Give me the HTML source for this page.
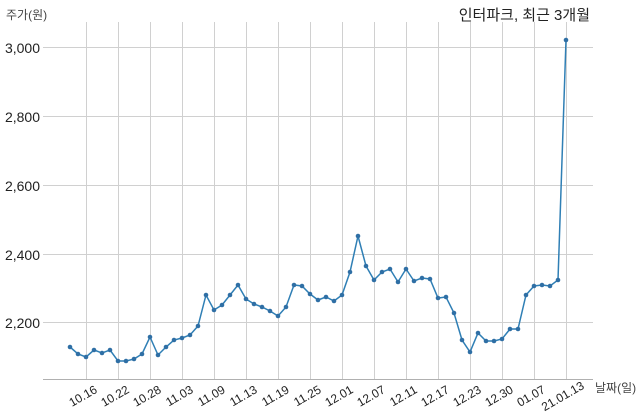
<!DOCTYPE html>
<html><head><meta charset="utf-8"><style>
html,body{margin:0;padding:0;background:#fff;}
svg{display:block;}
text{font-family:"Liberation Sans","Noto Sans CJK KR",sans-serif;}
</style></head><body>
<svg width="640" height="419" viewBox="0 0 640 419" xmlns="http://www.w3.org/2000/svg">
<g stroke="#d0d0d0" stroke-width="1">
<line x1="43" y1="47.5" x2="593" y2="47.5"/>
<line x1="43" y1="116.5" x2="593" y2="116.5"/>
<line x1="43" y1="185.5" x2="593" y2="185.5"/>
<line x1="43" y1="254.5" x2="593" y2="254.5"/>
<line x1="43" y1="322.5" x2="593" y2="322.5"/>
<line x1="86.5" y1="22" x2="86.5" y2="379"/><line x1="118.5" y1="22" x2="118.5" y2="379"/>
<line x1="150.5" y1="22" x2="150.5" y2="379"/><line x1="182.5" y1="22" x2="182.5" y2="379"/>
<line x1="214.5" y1="22" x2="214.5" y2="379"/><line x1="246.5" y1="22" x2="246.5" y2="379"/>
<line x1="278.5" y1="22" x2="278.5" y2="379"/><line x1="310.5" y1="22" x2="310.5" y2="379"/>
<line x1="342.5" y1="22" x2="342.5" y2="379"/><line x1="374.5" y1="22" x2="374.5" y2="379"/>
<line x1="406.5" y1="22" x2="406.5" y2="379"/><line x1="438.5" y1="22" x2="438.5" y2="379"/>
<line x1="470.5" y1="22" x2="470.5" y2="379"/><line x1="502.5" y1="22" x2="502.5" y2="379"/>
<line x1="534.5" y1="22" x2="534.5" y2="379"/><line x1="566.5" y1="22" x2="566.5" y2="379"/>
</g>
<line x1="43" y1="379.5" x2="593" y2="379.5" stroke="#b0b0b0" stroke-width="1"/>
<g font-size="14" fill="#222" text-anchor="end">
<text x="40" y="53">3,000</text><text x="40" y="122">2,800</text><text x="40" y="191">2,600</text>
<text x="40" y="260">2,400</text><text x="40" y="328">2,200</text>
</g>
<text x="6" y="19" font-size="12" fill="#444">주가(원)</text>
<text x="590" y="20" font-size="15" fill="#222" text-anchor="end">인터파크, 최근 3개월</text>
<text x="595" y="392" font-size="12" fill="#444">날짜(일)</text>
<g font-size="12" fill="#222" text-anchor="end">
<text transform="translate(98,392) rotate(-30)">10.16</text>
<text transform="translate(130,392) rotate(-30)">10.22</text>
<text transform="translate(162,392) rotate(-30)">10.28</text>
<text transform="translate(194,392) rotate(-30)">11.03</text>
<text transform="translate(226,392) rotate(-30)">11.09</text>
<text transform="translate(258,392) rotate(-30)">11.13</text>
<text transform="translate(290,392) rotate(-30)">11.19</text>
<text transform="translate(322,392) rotate(-30)">11.25</text>
<text transform="translate(354,392) rotate(-30)">12.01</text>
<text transform="translate(386,392) rotate(-30)">12.07</text>
<text transform="translate(418,392) rotate(-30)">12.11</text>
<text transform="translate(450,392) rotate(-30)">12.17</text>
<text transform="translate(482,392) rotate(-30)">12.23</text>
<text transform="translate(514,392) rotate(-30)">12.30</text>
<text transform="translate(546,392) rotate(-30)">01.07</text>
<text transform="translate(585,388) rotate(-30)">21.01.13</text>
</g>
<polyline fill="none" stroke="#2f7fb5" stroke-width="1.5" points="70,347 78,354 86,357 94,350 102,353 110,350 118,361 126,361 134,359 142,354 150,337 158,355 166,347 174,340 182,338 190,335 198,326 206,295 214,310 222,305 230,295 238,285 246,299 254,304 262,307 270,311 278,316 286,307 294,285 302,286 310,294 318,300 326,297 334,301 342,295 350,272 358,236 366,266 374,280 382,272 390,269 398,282 406,269 414,281 422,278 430,279 438,298 446,297 454,313 462,340 470,352 478,333 486,341 494,341 502,339 510,329 518,329 526,295 534,286 542,285 550,286 558,280 566,40"/>
<g fill="#2f6fa5">
<circle cx="70" cy="347" r="2.3"/><circle cx="78" cy="354" r="2.3"/><circle cx="86" cy="357" r="2.3"/><circle cx="94" cy="350" r="2.3"/><circle cx="102" cy="353" r="2.3"/><circle cx="110" cy="350" r="2.3"/><circle cx="118" cy="361" r="2.3"/><circle cx="126" cy="361" r="2.3"/><circle cx="134" cy="359" r="2.3"/><circle cx="142" cy="354" r="2.3"/><circle cx="150" cy="337" r="2.3"/><circle cx="158" cy="355" r="2.3"/><circle cx="166" cy="347" r="2.3"/><circle cx="174" cy="340" r="2.3"/><circle cx="182" cy="338" r="2.3"/><circle cx="190" cy="335" r="2.3"/><circle cx="198" cy="326" r="2.3"/><circle cx="206" cy="295" r="2.3"/><circle cx="214" cy="310" r="2.3"/><circle cx="222" cy="305" r="2.3"/><circle cx="230" cy="295" r="2.3"/><circle cx="238" cy="285" r="2.3"/><circle cx="246" cy="299" r="2.3"/><circle cx="254" cy="304" r="2.3"/><circle cx="262" cy="307" r="2.3"/><circle cx="270" cy="311" r="2.3"/><circle cx="278" cy="316" r="2.3"/><circle cx="286" cy="307" r="2.3"/><circle cx="294" cy="285" r="2.3"/><circle cx="302" cy="286" r="2.3"/><circle cx="310" cy="294" r="2.3"/><circle cx="318" cy="300" r="2.3"/><circle cx="326" cy="297" r="2.3"/><circle cx="334" cy="301" r="2.3"/><circle cx="342" cy="295" r="2.3"/><circle cx="350" cy="272" r="2.3"/><circle cx="358" cy="236" r="2.3"/><circle cx="366" cy="266" r="2.3"/><circle cx="374" cy="280" r="2.3"/><circle cx="382" cy="272" r="2.3"/><circle cx="390" cy="269" r="2.3"/><circle cx="398" cy="282" r="2.3"/><circle cx="406" cy="269" r="2.3"/><circle cx="414" cy="281" r="2.3"/><circle cx="422" cy="278" r="2.3"/><circle cx="430" cy="279" r="2.3"/><circle cx="438" cy="298" r="2.3"/><circle cx="446" cy="297" r="2.3"/><circle cx="454" cy="313" r="2.3"/><circle cx="462" cy="340" r="2.3"/><circle cx="470" cy="352" r="2.3"/><circle cx="478" cy="333" r="2.3"/><circle cx="486" cy="341" r="2.3"/><circle cx="494" cy="341" r="2.3"/><circle cx="502" cy="339" r="2.3"/><circle cx="510" cy="329" r="2.3"/><circle cx="518" cy="329" r="2.3"/><circle cx="526" cy="295" r="2.3"/><circle cx="534" cy="286" r="2.3"/><circle cx="542" cy="285" r="2.3"/><circle cx="550" cy="286" r="2.3"/><circle cx="558" cy="280" r="2.3"/><circle cx="566" cy="40" r="2.3"/>
</g>
</svg>
</body></html>
